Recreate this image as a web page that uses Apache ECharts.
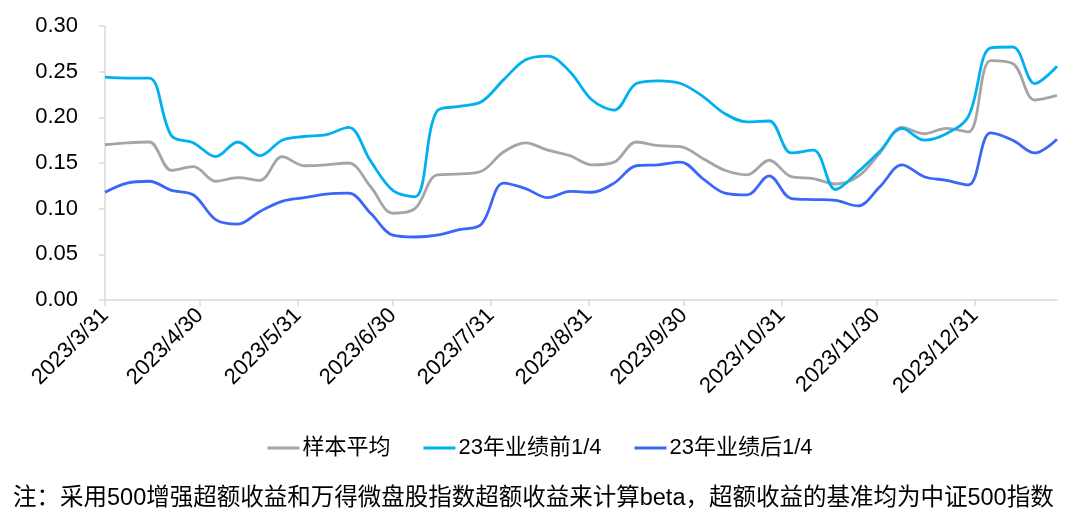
<!DOCTYPE html>
<html>
<head>
<meta charset="utf-8">
<script src="https://cdn.jsdelivr.net/npm/echarts@6/dist/echarts.min.js"></script>
<style>html,body{margin:0;padding:0;background:#fff;}#c{width:1080px;height:519px;}</style>
</head>
<body>
<div id="c"></div>
<script>
const dates = ['2023-03-31','2023-04-07','2023-04-14','2023-04-21','2023-04-28','2023-05-05','2023-05-12','2023-05-19','2023-05-26',
 '2023-06-02','2023-06-09','2023-06-16','2023-06-23','2023-06-30','2023-07-07','2023-07-14','2023-07-21','2023-07-28',
 '2023-08-04','2023-08-11','2023-08-18','2023-08-25','2023-09-01','2023-09-08','2023-09-15','2023-09-22','2023-09-29',
 '2023-10-06','2023-10-13','2023-10-20','2023-10-27','2023-11-03','2023-11-10','2023-11-17','2023-11-24',
 '2023-12-01','2023-12-08','2023-12-15','2023-12-22','2023-12-29','2024-01-05','2024-01-12','2024-01-19','2024-01-26'];
const sampleAvg = [0.170,0.172,0.173,0.142,0.146,0.130,0.134,0.131,0.157,0.147,0.148,0.150,0.124,0.095,0.100,0.137,0.138,0.141,
 0.162,0.172,0.164,0.158,0.148,0.151,0.173,0.169,0.168,0.155,0.142,0.137,0.153,0.135,0.133,0.127,0.135,0.161,0.189,0.182,0.188,0.184,
 0.262,0.259,0.219,0.224];
const topQuarter = [0.244,0.243,0.243,0.180,0.172,0.157,0.173,0.158,0.175,0.179,0.181,0.189,0.152,0.120,0.113,0.207,0.212,0.217,
 0.241,0.263,0.267,0.250,0.219,0.208,0.237,0.240,0.237,0.223,0.204,0.195,0.196,0.161,0.164,0.121,0.140,0.163,0.188,0.175,0.182,0.201,
 0.276,0.277,0.237,0.256];
const bottomQuarter = [0.118,0.128,0.130,0.120,0.115,0.088,0.083,0.097,0.108,0.112,0.116,0.117,0.095,0.071,0.069,0.071,0.077,0.083,
 0.128,0.122,0.112,0.119,0.118,0.128,0.147,0.148,0.151,0.133,0.117,0.115,0.136,0.111,0.110,0.109,0.103,0.124,0.148,0.135,0.131,0.126,
 0.183,0.175,0.161,0.176];
const monthTicks = ['2023-03-31','2023-04-30','2023-05-31','2023-06-30','2023-07-31','2023-08-31','2023-09-30','2023-10-31','2023-11-30','2023-12-31'];
const seriesNames = ['样本平均','23年业绩前1/4','23年业绩后1/4'];
const note = '注：采用500增强超额收益和万得微盘股指数超额收益来计算beta，超额收益的基准均为中证500指数';

const toTs = s => { const p = s.split('-').map(Number); return new Date(p[0], p[1] - 1, p[2]).getTime(); };
const tickVals = monthTicks.map(toTs);
const pair = arr => dates.map((d, i) => [toTs(d), arr[i]]);
const font = '"Liberation Sans", Arial, "Noto Sans CJK SC", sans-serif';
const colors = ['#A5A5A5', '#00B0F0', '#3B66F7'];

const chart = echarts.init(document.getElementById('c'), null, {renderer: 'canvas'});
chart.setOption({
  animation: false,
  color: colors,
  textStyle: {fontFamily: font},
  grid: {left: 105, right: 23, top: 26, bottom: 219, containLabel: false},
  legend: {
    data: seriesNames, bottom: 55, left: 'center',
    icon: 'rect', itemWidth: 32, itemHeight: 3, itemGap: 33,
    textStyle: {fontSize: 22, color: '#000', fontFamily: font, padding: [0, 0, 0, -2]}
  },
  graphic: [{
    type: 'text', left: 13, top: 487,
    style: {text: note, fontSize: 23.5, fill: '#000', fontFamily: font}
  }],
  xAxis: {
    type: 'value',
    min: toTs('2023-03-31'), max: toTs('2024-01-26'),
    splitLine: {show: false},
    axisLine: {lineStyle: {color: '#D9D9D9', width: 1.5}},
    axisTick: {show: true, customValues: tickVals, length: 6, lineStyle: {color: '#D9D9D9', width: 1.5}},
    axisLabel: {
      customValues: tickVals, rotate: 45, fontSize: 22, color: '#000', margin: 12, fontFamily: font,
      formatter: v => { const d = new Date(v); return d.getFullYear() + '/' + (d.getMonth() + 1) + '/' + d.getDate(); }
    }
  },
  yAxis: {
    type: 'value', min: 0, max: 0.30, interval: 0.05,
    splitLine: {show: false},
    axisLine: {show: true, lineStyle: {color: '#D9D9D9', width: 1.5}},
    axisTick: {show: true, length: 6, lineStyle: {color: '#D9D9D9', width: 1.5}},
    axisLabel: {fontSize: 22, color: '#000', margin: 27, fontFamily: font, formatter: v => v.toFixed(2)}
  },
  series: [
    {name: seriesNames[0], type: 'line', data: pair(sampleAvg), smooth: 0.35, symbol: 'none', lineStyle: {width: 2.8, color: colors[0]}},
    {name: seriesNames[1], type: 'line', data: pair(topQuarter), smooth: 0.35, symbol: 'none', lineStyle: {width: 2.8, color: colors[1]}},
    {name: seriesNames[2], type: 'line', data: pair(bottomQuarter), smooth: 0.35, symbol: 'none', lineStyle: {width: 2.8, color: colors[2]}}
  ]
});
</script>
</body>
</html>
